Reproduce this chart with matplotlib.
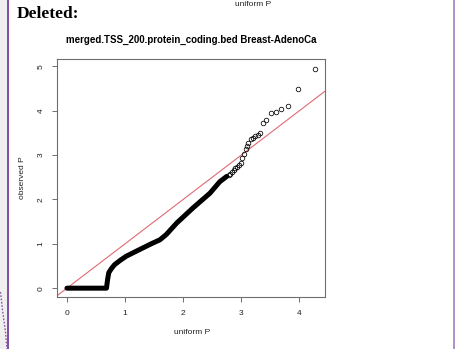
import matplotlib
matplotlib.use("Agg")
import matplotlib.pyplot as plt
from matplotlib.lines import Line2D
from matplotlib.patches import Rectangle

# Dense body of the QQ curve (expected vs observed -log10 P), traced as vertices
body_uniform = [0.00, 0.68, 0.70, 0.72, 0.77, 0.82, 0.92, 1.02, 1.25, 1.45, 1.60,
                1.71, 1.89, 2.17, 2.46, 2.63, 2.75]
body_observed = [0.00, 0.00, 0.20, 0.35, 0.45, 0.53, 0.63, 0.72, 0.87, 1.00, 1.09,
                 1.21, 1.47, 1.81, 2.14, 2.40, 2.52]

# Sparse upper tail drawn as individual points
tail_uniform = [2.78, 2.81, 2.84, 2.87, 2.90, 2.93, 2.96, 2.99, 3.02, 3.05, 3.08,
                3.10, 3.12, 3.16, 3.20, 3.24, 3.28, 3.33, 3.38, 3.43, 3.51, 3.59,
                3.68, 3.80, 3.98, 4.27]
tail_observed = [2.55, 2.58, 2.62, 2.66, 2.70, 2.74, 2.78, 2.83, 2.94, 3.03, 3.13,
                 3.21, 3.28, 3.36, 3.39, 3.42, 3.45, 3.49, 3.73, 3.78, 3.94, 3.96,
                 4.03, 4.11, 4.48, 4.95]

x_ticks = [0, 1, 2, 3, 4]
y_ticks = [0, 1, 2, 3, 4, 5]
title = "merged.TSS_200.protein_coding.bed Breast-AdenoCa"

plt.rcParams['font.family'] = ['Liberation Sans', 'DejaVu Sans']

W, H = 455, 349
fig = plt.figure(figsize=(W / 100, H / 100), dpi=100)
fig.patch.set_facecolor("white")

# page margin strip and change-tracking borders
fig.add_artist(Rectangle((0, 0), 7.5 / W, 1, transform=fig.transFigure,
                         facecolor="#efefef", edgecolor="none", zorder=0))
fig.add_artist(Line2D([8.3 / W, 8.3 / W], [0, 1], transform=fig.transFigure,
                      color="#7a3e9d", lw=1.3))
fig.add_artist(Line2D([454.3 / W, 454.3 / W], [0, 1], transform=fig.transFigure,
                      color="#a57cc4", lw=1.2))
fig.add_artist(Line2D([0.5 / W, 2.5 / W, 5.5 / W, 7.0 / W],
                      [1 - 292 / H, 1 - 310 / H, 1 - 332 / H, 1 - 349 / H],
                      transform=fig.transFigure, color="#8a5aa8", lw=1.0,
                      linestyle=(0, (1.2, 1.2))))

fig.text(17 / W, 1 - 14 / H, "Deleted:", family=["Liberation Serif", "DejaVu Serif"],
         fontweight="bold", fontsize=12.5, ha="left", va="center")
fig.text(253 / W, 1 - 5 / H, "uniform P", fontsize=6, ha="center", va="center",
         color="#222222")

ax = fig.add_axes([57 / W, 1 - 297 / H, (325 - 57) / W, (297 - 59) / H])
ax.set_xlim(-0.171, 4.44)
ax.set_ylim(-0.199, 5.165)

ax.plot(body_uniform, body_observed, color="black", lw=3.6,
        solid_capstyle="round", solid_joinstyle="round", zorder=3)
ax.plot(tail_uniform, tail_observed, linestyle="none", marker="o", ms=3.3,
        mfc="none", mec="black", mew=0.55, zorder=3)
ax.plot([-1, 6], [-1, 6], color="#e06a72", lw=0.8, zorder=2)

for s in ax.spines.values():
    s.set_color("#6e6e6e")
    s.set_linewidth(0.8)

ax.set_xticks(x_ticks)
ax.set_yticks(y_ticks)
ax.tick_params(direction="out", length=3.6, width=0.7, color="#6e6e6e",
               labelsize=6, pad=5.5, labelcolor="#222222")
for lab in ax.get_yticklabels():
    lab.set_rotation(90)
    lab.set_va("center")

fig.text(191.7 / W, 1 - 40 / H, title, fontsize=7, fontweight="bold",
         ha="center", va="center")
fig.text(191.7 / W, 1 - 332.7 / H, "uniform P", fontsize=6, ha="center",
         va="center", color="#222222")
fig.text(23 / W, 1 - 178 / H, "observed P", fontsize=6, ha="center",
         va="center", rotation=90, color="#222222")

fig.savefig("out.png", dpi=100)
